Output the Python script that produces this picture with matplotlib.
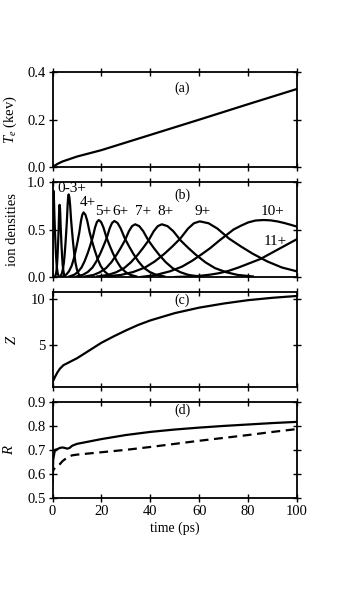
import matplotlib
matplotlib.use("Agg")
import matplotlib.pyplot as plt

plt.rcParams['font.family'] = ['Liberation Serif', 'DejaVu Serif']
plt.rcParams['mathtext.fontset'] = 'custom'
plt.rcParams['mathtext.it'] = 'Liberation Serif:italic'
plt.rcParams['mathtext.rm'] = 'Liberation Serif'

# ---- panel (a): electron temperature ----
t_te = [0, 2, 4, 6, 10, 20, 40, 60, 80, 100]
te = [0.0, 0.014, 0.024, 0.031, 0.045, 0.072, 0.136, 0.200, 0.265, 0.329]

# ---- panel (b): ion densities ----
t_q1 = [0, 0.1, 0.2, 0.28, 0.35, 0.485, 0.62, 0.8, 0.98, 1.16, 1.385, 1.61, 1.88, 2.15, 2.51]
n_q1 = [0, 0.55, 0.82, 0.89, 0.91, 0.878, 0.792, 0.628, 0.5, 0.382, 0.255, 0.155, 0.082, 0.036, 0.009]
t_q2 = [1.1, 1.4, 1.63, 1.85, 2.04, 2.23, 2.38, 2.53, 2.68, 2.79, 2.9,
        3.04, 3.17, 3.35, 3.53, 3.71, 3.94, 4.16, 4.43, 4.7, 5.06]
n_q2 = [0.008, 0.03, 0.068, 0.129, 0.213, 0.319, 0.418, 0.524, 0.661, 0.733, 0.76,
        0.733, 0.661, 0.524, 0.418, 0.319, 0.213, 0.129, 0.068, 0.03, 0.008]
t_q3 = [3.24, 3.8, 4.22, 4.64, 4.99, 5.34, 5.62, 5.9, 6.18, 6.39, 6.6,
        6.9, 7.2, 7.6, 8.0, 8.4, 8.9, 9.4, 10.0, 10.6, 11.4]
n_q3 = [0.009, 0.035, 0.078, 0.148, 0.244, 0.365, 0.479, 0.6, 0.757, 0.84, 0.87,
        0.84, 0.757, 0.6, 0.479, 0.365, 0.244, 0.148, 0.078, 0.035, 0.009]
t_q4 = [4.3, 5.7, 6.75, 7.8, 8.68, 9.55, 10.25, 10.95, 11.65, 12.18, 12.7,
        13.45, 14.2, 15.2, 16.2, 17.2, 18.45, 19.7, 21.2, 22.7, 24.7]
n_q4 = [0.007, 0.027, 0.061, 0.116, 0.19, 0.286, 0.374, 0.469, 0.592, 0.656, 0.68,
        0.656, 0.592, 0.469, 0.374, 0.286, 0.19, 0.116, 0.061, 0.027, 0.007]
t_q5 = [6.9, 8.9, 10.4, 11.9, 13.15, 14.4, 15.4, 16.4, 17.4, 18.15, 18.9,
        19.86, 20.82, 22.1, 23.38, 24.66, 26.26, 27.86, 29.78, 31.7, 34.26]
n_q5 = [0.006, 0.024, 0.054, 0.102, 0.168, 0.252, 0.33, 0.414, 0.522, 0.579, 0.6,
        0.579, 0.522, 0.414, 0.33, 0.252, 0.168, 0.102, 0.054, 0.024, 0.006]
t_q6 = [9.94, 12.5, 14.42, 16.34, 17.94, 19.54, 20.82, 22.1, 23.38, 24.34, 25.3,
        26.58, 27.85, 29.55, 31.25, 32.95, 35.08, 37.2, 39.75, 42.3, 45.7]
n_q6 = [0.006, 0.024, 0.053, 0.1, 0.165, 0.248, 0.325, 0.407, 0.513, 0.569, 0.59,
        0.569, 0.513, 0.407, 0.325, 0.248, 0.165, 0.1, 0.053, 0.024, 0.006]
t_q7 = [13.4, 16.8, 19.35, 21.9, 24.03, 26.15, 27.85, 29.55, 31.25, 32.53, 33.8,
        35.44, 37.07, 39.25, 41.43, 43.61, 46.34, 49.06, 52.33, 55.6, 59.96]
n_q7 = [0.006, 0.022, 0.05, 0.094, 0.155, 0.233, 0.305, 0.383, 0.483, 0.536, 0.555,
        0.536, 0.483, 0.383, 0.305, 0.233, 0.155, 0.094, 0.05, 0.022, 0.006]
t_q8 = [18.3, 22.7, 26.0, 29.3, 32.05, 34.8, 37.0, 39.2, 41.4, 43.05, 44.7,
        47.0, 49.35, 52.45, 55.55, 58.65, 62.5, 66.4, 71.05, 75.7, 81.9]
n_q8 = [0.006, 0.022, 0.05, 0.094, 0.155, 0.233, 0.305, 0.383, 0.483, 0.536, 0.555,
        0.536, 0.483, 0.383, 0.305, 0.233, 0.155, 0.094, 0.05, 0.022, 0.006]
t_q9 = [21.8, 28.2, 33.0, 37.8, 41.8, 45.8, 49.0, 52.2, 55.4, 57.8, 60.2,
        63.8, 67.4, 72.2, 77.0, 81.8, 87.8, 93.8, 100]
n_q9 = [0.006, 0.023, 0.053, 0.1, 0.164, 0.246, 0.322, 0.404, 0.51, 0.566, 0.586,
        0.566, 0.51, 0.404, 0.322, 0.246, 0.164, 0.1, 0.059]
t_q10 = [36, 42, 48, 53, 57, 61, 64.5, 68, 71, 74, 77, 80, 83, 86.2, 89, 92, 95, 98, 100]
n_q10 = [0.0, 0.02, 0.06, 0.11, 0.17, 0.24, 0.305, 0.38, 0.44, 0.5, 0.54, 0.575, 0.595,
         0.6, 0.597, 0.585, 0.567, 0.545, 0.53]
t_q11 = [50, 55, 60, 64.5, 68, 72, 76, 80, 85, 90, 95, 100]
n_q11 = [0, 0.005, 0.012, 0.025, 0.04, 0.065, 0.1, 0.14, 0.19, 0.26, 0.33, 0.40]

ion_curves = [(t_q1, n_q1), (t_q2, n_q2), (t_q3, n_q3), (t_q4, n_q4),
              (t_q5, n_q5), (t_q6, n_q6), (t_q7, n_q7), (t_q8, n_q8),
              (t_q9, n_q9), (t_q10, n_q10), (t_q11, n_q11)]

ion_labels = ["0-3+", "4+", "5+", "6+", "7+", "8+", "9+", "10+", "11+"]
ion_label_t = [7.9, 14.3, 20.6, 27.9, 37.2, 46.3, 61.4, 89.9, 91.0]
ion_label_n = [0.93, 0.78, 0.69, 0.69, 0.69, 0.69, 0.69, 0.69, 0.37]

# ---- panel (c): mean charge ----
t_z = [0, 0.5, 1, 2, 3, 4.5, 6, 8, 10, 15, 20, 25, 30, 35, 40, 50, 60, 70, 80, 90, 100]
z = [0.95, 1.2, 1.5, 2.0, 2.4, 2.8, 3.0, 3.28, 3.55, 4.4, 5.25, 5.95, 6.6, 7.2,
     7.7, 8.5, 9.1, 9.55, 9.92, 10.18, 10.38]

# ---- panel (d): ratio R ----
t_r = [0, 0.3, 1, 2, 3, 4, 5, 6, 7, 8, 10, 15, 20, 30, 40, 50, 60, 70, 80, 90, 100]
r_solid = [0.56, 0.66, 0.70, 0.703, 0.708, 0.71, 0.708, 0.705, 0.708, 0.717, 0.725,
           0.735, 0.745, 0.762, 0.775, 0.785, 0.793, 0.80, 0.806, 0.812, 0.817]
r_dashed = [0.59, 0.615, 0.625, 0.63, 0.64, 0.652, 0.66, 0.668, 0.673, 0.677, 0.68,
            0.685, 0.69, 0.70, 0.712, 0.725, 0.738, 0.75, 0.762, 0.775, 0.787]

xticks = [0, 20, 40, 60, 80, 100]

fig = plt.figure(figsize=(3.5, 6.0), dpi=100)
L, W = 0.15, 0.699
axa = fig.add_axes([L, 0.7212, W, 0.1588])
axb = fig.add_axes([L, 0.5383, W, 0.1583])
axc = fig.add_axes([L, 0.3542, W, 0.1597])
axd = fig.add_axes([L, 0.1705, W, 0.1595])

lw = 1.6
axa.plot(t_te, te, color='black', lw=lw)
for tt, nn in ion_curves:
    axb.plot(tt, nn, color='black', lw=lw)
for lab, tx, ny in zip(ion_labels, ion_label_t, ion_label_n):
    axb.text(tx, ny, lab, ha='center', va='center', fontsize=11)
axc.plot(t_z, z, color='black', lw=lw)
axd.plot(t_r, r_solid, color='black', lw=lw)
axd.plot(t_r, r_dashed, color='black', lw=lw, ls=(0, (4, 2.5)))

axa.set_ylim(0, 0.4)
axa.set_yticks([0.0, 0.2, 0.4])
axa.set_yticklabels(["0.0", "0.2", "0.4"])
axb.set_ylim(0, 1.0)
axb.set_yticks([0.0, 0.5, 1.0])
axb.set_yticklabels(["0.0", "0.5", "1.0"])
axc.set_ylim(0.35, 10.85)
axc.set_yticks([5, 10])
axd.set_ylim(0.5, 0.9)
axd.set_yticks([0.5, 0.6, 0.7, 0.8, 0.9])
axd.set_yticklabels(["0.5", "0.6", "0.7", "0.8", "0.9"])

axa.set_ylabel(r"$T_e$ (kev)", fontsize=10.5)
axb.set_ylabel("ion densities", fontsize=10.5)
axc.set_ylabel(r"$Z$", fontsize=10.5)
axd.set_ylabel(r"$R$", fontsize=10.5)

axa.text(0.53, 0.83, "(a)", transform=axa.transAxes, ha='center', va='center', fontsize=10)
axb.text(0.53, 0.856, "(b)", transform=axb.transAxes, ha='center', va='center', fontsize=10)
axc.text(0.53, 0.906, "(c)", transform=axc.transAxes, ha='center', va='center', fontsize=10)
axd.text(0.53, 0.909, "(d)", transform=axd.transAxes, ha='center', va='center', fontsize=10)

for ax in (axa, axb, axc, axd):
    ax.set_xlim(0, 100)
    ax.set_xticks(xticks)
    ax.tick_params(direction='inout', length=6, width=1.0, top=True, right=True,
                   labelsize=10.5, pad=2)
    for s in ax.spines.values():
        s.set_linewidth(1.3)
    ax.yaxis.set_label_coords(-0.135, 0.5)
    if ax is not axd:
        ax.tick_params(labelbottom=False)
axd.yaxis.set_label_coords(-0.15, 0.5)

axd.set_xlabel("time (ps)", fontsize=10, labelpad=3)

fig.savefig("out.png", dpi=100)
